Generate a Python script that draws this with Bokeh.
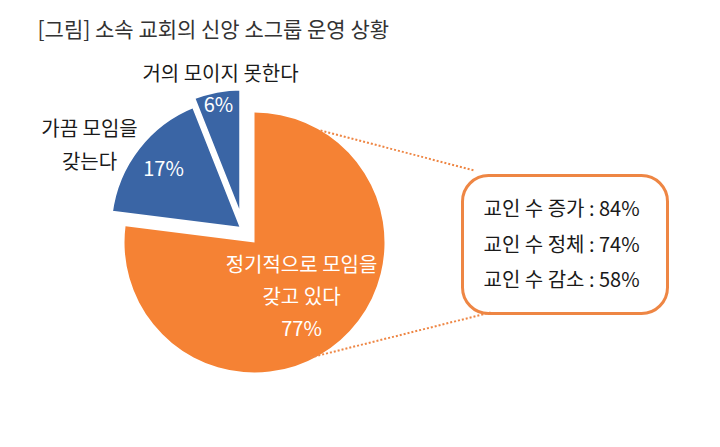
import math
from bokeh.plotting import figure
from bokeh.models import Range1d, BoxAnnotation
from bokeh.core.properties import value
from bokeh.embed import file_html
from bokeh.resources import INLINE

# ---- data ----
title = "[그림] 소속 교회의 신앙 소그룹 운영 상황"
categories = ["정기적으로 모임을 갖고 있다", "가끔 모임을 갖는다", "거의 모이지 못한다"]
shares = [77, 17, 6]
box_labels = ["교인 수 증가", "교인 수 정체", "교인 수 감소"]
box_values = [84, 74, 58]

# ---- style ----
W, H = 720, 447
FONT = value("Noto Sans CJK KR")
ORANGE = "#F58234"
BLUE = "#3A65A5"
BOX_ORANGE = "#EE8644"
slice_colors = [ORANGE, BLUE, BLUE]
PIE_CX, PIE_CY, R = 254, 242, 130      # pixel layout of the pie
GROUP_EXPLODE = 17                      # blue slices are pulled out together
EXTRA_EXPLODE = [0, 0, 8]               # the smallest slice a bit further
FS = "20px"

def Y(py):
    return H - py

p = figure(width=W, height=H, x_range=Range1d(0, W), y_range=Range1d(0, H),
           output_backend="svg", toolbar_location=None, min_border=0)
p.axis.visible = False
p.grid.visible = False
p.outline_line_color = None
p.background_fill_color = "white"

# angles: clockwise from 12 o'clock
total = sum(shares)
starts, ends = [], []
cum = 0.0
for s in shares:
    a0 = math.pi / 2 - 2 * math.pi * cum / total
    cum += s
    a1 = math.pi / 2 - 2 * math.pi * cum / total
    starts.append(a1)
    ends.append(a0)

gmid = (starts[2] + ends[1]) / 2
cxs, cys, radii, lws = [], [], [], []
for i in range(len(shares)):
    cx, cy = PIE_CX, Y(PIE_CY)
    if i > 0:
        cx += GROUP_EXPLODE * math.cos(gmid)
        cy += GROUP_EXPLODE * math.sin(gmid)
        mid = (starts[i] + ends[i]) / 2
        cx += EXTRA_EXPLODE[i] * math.cos(mid)
        cy += EXTRA_EXPLODE[i] * math.sin(mid)
        radii.append(R + 4)
        lws.append(5)
    else:
        radii.append(R)
        lws.append(0)
    cxs.append(cx)
    cys.append(cy)

for i in range(len(shares)):
    p.wedge(x=cxs[i], y=cys[i], radius=radii[i], start_angle=starts[i], end_angle=ends[i],
            direction="anticlock", fill_color=slice_colors[i],
            line_color="white" if lws[i] else None, line_width=lws[i] if lws[i] else 1)

# title
p.text(x=[37], y=[Y(27)], text=[title], text_font=FONT, text_font_size="21px",
       text_color="#333333", text_baseline="middle", text_align="left")

# labels outside (black)
p.text(x=[220], y=[Y(72)], text=[categories[2]], text_font=FONT, text_font_size=FS,
       text_color="#1a1a1a", text_baseline="middle", text_align="center")
lbl17 = categories[1].split(" ")
p.text(x=[89, 89], y=[Y(127), Y(160)], text=[lbl17[0] + " " + lbl17[1], lbl17[2]],
       text_font=FONT, text_font_size=FS, text_color="#1a1a1a",
       text_baseline="middle", text_align="center")

# percentage labels
p.text(x=[218, 163], y=[Y(103), Y(167)], text=[f"{shares[2]}%", f"{shares[1]}%"],
       text_font=FONT, text_font_size=FS, text_color="white",
       text_baseline="middle", text_align="center")
lbl77 = categories[0].split(" ")
p.text(x=[301, 301, 301], y=[Y(263), Y(295), Y(327)],
       text=[lbl77[0] + " " + lbl77[1], lbl77[2] + " " + lbl77[3], f"{shares[0]}%"],
       text_font=FONT, text_font_size=FS, text_color="white",
       text_baseline="middle", text_align="center")

# connector dotted lines
p.line(x=[320, 474], y=[Y(130), Y(170)], line_color=BOX_ORANGE, line_width=2, line_dash="2 2")
p.line(x=[310, 490], y=[Y(357), Y(312)], line_color=BOX_ORANGE, line_width=2, line_dash="2 2")

# rounded box
box = BoxAnnotation(left=462, right=667, top=Y(175), bottom=Y(313),
                    fill_color=None, line_color=BOX_ORANGE, line_alpha=1.0,
                    line_width=3, border_radius=26, level="underlay")
p.add_layout(box)

p.text(x=[483] * 3, y=[Y(207), Y(243), Y(278)],
       text=[f"{l} : {v}%" for l, v in zip(box_labels, box_values)],
       text_font=FONT, text_font_size=FS, text_color="#1a1a1a",
       text_baseline="middle", text_align="left")

open("out.html", "w").write(file_html(p, INLINE))
